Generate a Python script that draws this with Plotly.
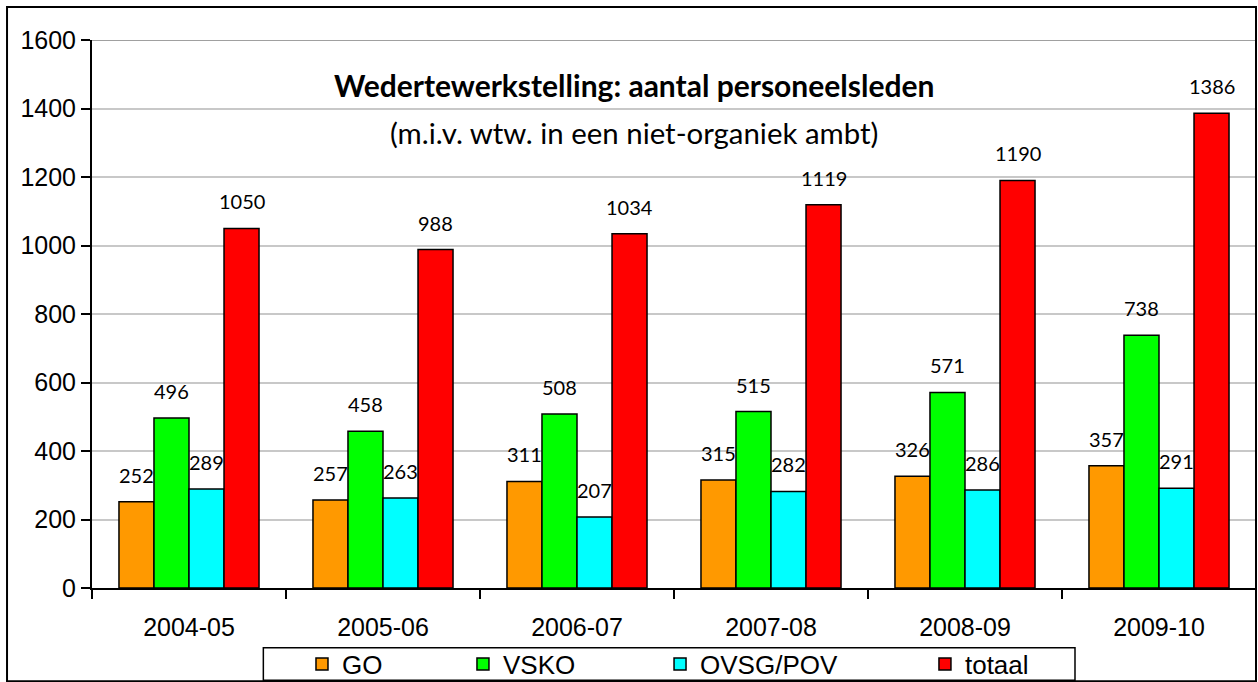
import plotly.graph_objects as go

categories = ["2004-05", "2005-06", "2006-07", "2007-08", "2008-09", "2009-10"]
go_vals = [252, 257, 311, 315, 326, 357]
vsko_vals = [496, 458, 508, 515, 571, 738]
ovsg_vals = [289, 263, 207, 282, 286, 291]
totaal_vals = [1050, 988, 1034, 1119, 1190, 1386]
series_names = ["GO", "VSKO", "OVSG/POV", "totaal"]
series_colors = ["#FF9900", "#00FF00", "#00FFFF", "#FF0000"]
y_ticks = [0, 200, 400, 600, 800, 1000, 1200, 1400, 1600]
title_text = "Wedertewerkstelling: aantal personeelsleden"
subtitle_text = "(m.i.v. wtw. in een niet-organiek ambt)"

all_series = [go_vals, vsko_vals, ovsg_vals, totaal_vals]
legend_ids = ["legend", "legend2", "legend3", "legend4"]
legend_x = [0.1804, 0.3187, 0.4880, 0.7156]

BARGAP = 0.278
bar_w = (1 - BARGAP) / 4

fig = go.Figure()
for k, (name, vals, col) in enumerate(zip(series_names, all_series, series_colors)):
    fig.add_trace(go.Bar(
        x=categories, y=vals, name=name,
        marker=dict(color=col, line=dict(color="black", width=1.5)),
        legend=legend_ids[k],
    ))

annotations = []
for k, vals in enumerate(all_series):
    off = (k - 1.5) * bar_w
    for i, v in enumerate(vals):
        annotations.append(dict(
            x=i + off, y=v, xref="x", yref="y", text=str(v),
            showarrow=False, yanchor="middle", yshift=27,
            font=dict(family="Lato", size=20, color="black"),
        ))

annotations.append(dict(
    x=0.4656, y=0.9177, xref="paper", yref="paper", text="<b>" + title_text + "</b>",
    showarrow=False, xanchor="center", yanchor="middle",
    font=dict(family="Lato", size=30, color="black"),
))
annotations.append(dict(
    x=0.4656, y=0.8318, xref="paper", yref="paper", text=subtitle_text,
    showarrow=False, xanchor="center", yanchor="middle",
    font=dict(family="Lato", size=29.4, color="black"),
))

shapes = [
    # title background box
    dict(type="rect", xref="paper", yref="paper", x0=0.2019, x1=0.7337, y0=0.790, y1=0.963,
         fillcolor="white", line=dict(width=0), layer="between"),
    # top plot-area line
    dict(type="line", xref="paper", yref="y", x0=0, x1=1, y0=y_ticks[-1], y1=y_ticks[-1],
         line=dict(color="#808080", width=1.5), layer="between"),
    # legend box
    dict(type="rect", xref="paper", yref="paper", x0=0.1472, x1=0.8445, y0=-0.1682, y1=-0.1091,
         fillcolor="rgba(0,0,0,0)", line=dict(color="black", width=1.5)),
    # outer chart border
    dict(type="rect", xref="paper", yref="paper", x0=-0.073, x1=1.0, y0=-0.170, y1=1.0603,
         fillcolor="rgba(0,0,0,0)", line=dict(color="black", width=2)),
]

layout_legends = {}
for k, lid in enumerate(legend_ids):
    layout_legends[lid] = dict(
        x=legend_x[k], y=-0.1389, xref="paper", yref="paper",
        xanchor="left", yanchor="middle", orientation="h",
        bgcolor="rgba(0,0,0,0)", borderwidth=0,
        font=dict(family="Liberation Sans", size=26, color="black"),
    )

fig.update_layout(
    width=1258, height=690,
    margin=dict(l=92, r=2, t=40, b=96),
    paper_bgcolor="white", plot_bgcolor="white",
    barmode="group", bargap=BARGAP, bargroupgap=0,
    showlegend=True,
    annotations=annotations,
    shapes=shapes,
    **layout_legends,
)

fig.update_xaxes(
    type="category", showline=True, linecolor="black", linewidth=2,
    ticks="outside", tickson="boundaries", ticklen=9, tickwidth=2, tickcolor="black",
    showgrid=False, ticklabelstandoff=16,
    tickfont=dict(family="Liberation Sans", size=25, color="black"),
)
fig.update_yaxes(
    range=[0, 1600], tickvals=y_ticks, showline=True, linecolor="black", linewidth=2,
    ticks="outside", ticklen=9, tickwidth=2, tickcolor="black",
    showgrid=True, gridcolor="#C8C8C8", gridwidth=1.5, zeroline=False,
    ticklabelstandoff=0,
    tickfont=dict(family="Liberation Sans", size=25, color="black"),
)

fig.write_html(
    "out.html",
    config={"displayModeBar": False},
    post_script="document.body.style.margin='0px';",
)
